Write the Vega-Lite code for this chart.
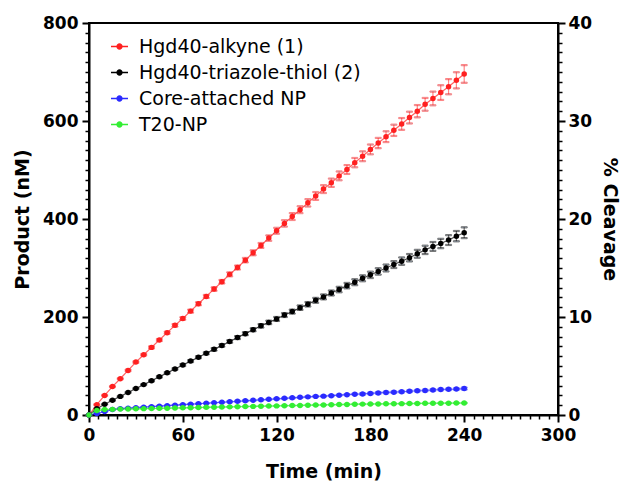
{
  "$schema": "https://vega.github.io/schema/vega-lite/v6.json",
  "width": 469,
  "height": 392,
  "autosize": {"type": "none"},
  "padding": {"left": 89, "top": 23, "right": 63, "bottom": 67},
  "background": "white",
  "data": {"values": [
    {"s":"Hgd40-alkyne (1)","t":0,"v":0,"e":0},{"s":"Hgd40-alkyne (1)","t":5,"v":21,"e":1},{"s":"Hgd40-alkyne (1)","t":10,"v":40,"e":1},{"s":"Hgd40-alkyne (1)","t":15,"v":58,"e":1},{"s":"Hgd40-alkyne (1)","t":20,"v":74,"e":1},{"s":"Hgd40-alkyne (1)","t":25,"v":91,"e":1.5},{"s":"Hgd40-alkyne (1)","t":30,"v":108,"e":1.5},{"s":"Hgd40-alkyne (1)","t":35,"v":123,"e":1.5},{"s":"Hgd40-alkyne (1)","t":40,"v":138,"e":2},{"s":"Hgd40-alkyne (1)","t":45,"v":153,"e":2},{"s":"Hgd40-alkyne (1)","t":50,"v":168,"e":2},{"s":"Hgd40-alkyne (1)","t":55,"v":183,"e":2.5},{"s":"Hgd40-alkyne (1)","t":60,"v":197,"e":2.5},{"s":"Hgd40-alkyne (1)","t":65,"v":212,"e":3},{"s":"Hgd40-alkyne (1)","t":70,"v":227,"e":3},{"s":"Hgd40-alkyne (1)","t":75,"v":242,"e":3},{"s":"Hgd40-alkyne (1)","t":80,"v":257,"e":3.5},{"s":"Hgd40-alkyne (1)","t":85,"v":272,"e":3.5},{"s":"Hgd40-alkyne (1)","t":90,"v":287,"e":4},{"s":"Hgd40-alkyne (1)","t":95,"v":301,"e":4},{"s":"Hgd40-alkyne (1)","t":100,"v":316,"e":4.5},{"s":"Hgd40-alkyne (1)","t":105,"v":331,"e":5},{"s":"Hgd40-alkyne (1)","t":110,"v":346,"e":5},{"s":"Hgd40-alkyne (1)","t":115,"v":361,"e":5.5},{"s":"Hgd40-alkyne (1)","t":120,"v":376,"e":6},{"s":"Hgd40-alkyne (1)","t":125,"v":391,"e":6.5},{"s":"Hgd40-alkyne (1)","t":130,"v":405,"e":7},{"s":"Hgd40-alkyne (1)","t":135,"v":419,"e":7},{"s":"Hgd40-alkyne (1)","t":140,"v":433,"e":7.5},{"s":"Hgd40-alkyne (1)","t":145,"v":447,"e":8},{"s":"Hgd40-alkyne (1)","t":150,"v":461,"e":8},{"s":"Hgd40-alkyne (1)","t":155,"v":474,"e":8.5},{"s":"Hgd40-alkyne (1)","t":160,"v":488,"e":9},{"s":"Hgd40-alkyne (1)","t":165,"v":501,"e":9},{"s":"Hgd40-alkyne (1)","t":170,"v":515,"e":9.5},{"s":"Hgd40-alkyne (1)","t":175,"v":528,"e":10},{"s":"Hgd40-alkyne (1)","t":180,"v":542,"e":10},{"s":"Hgd40-alkyne (1)","t":185,"v":555,"e":10.5},{"s":"Hgd40-alkyne (1)","t":190,"v":568,"e":11},{"s":"Hgd40-alkyne (1)","t":195,"v":581,"e":11.5},{"s":"Hgd40-alkyne (1)","t":200,"v":594,"e":12},{"s":"Hgd40-alkyne (1)","t":205,"v":607,"e":12},{"s":"Hgd40-alkyne (1)","t":210,"v":620,"e":12.5},{"s":"Hgd40-alkyne (1)","t":215,"v":634,"e":13},{"s":"Hgd40-alkyne (1)","t":220,"v":646,"e":14},{"s":"Hgd40-alkyne (1)","t":225,"v":658,"e":15},{"s":"Hgd40-alkyne (1)","t":230,"v":670,"e":15.5},{"s":"Hgd40-alkyne (1)","t":235,"v":683,"e":16.5},{"s":"Hgd40-alkyne (1)","t":240,"v":696,"e":18},
    {"s":"Hgd40-triazole-thiol (2)","t":0,"v":0,"e":0},{"s":"Hgd40-triazole-thiol (2)","t":5,"v":13,"e":0.5},{"s":"Hgd40-triazole-thiol (2)","t":10,"v":22,"e":0.5},{"s":"Hgd40-triazole-thiol (2)","t":15,"v":30,"e":1},{"s":"Hgd40-triazole-thiol (2)","t":20,"v":38,"e":1},{"s":"Hgd40-triazole-thiol (2)","t":25,"v":46,"e":1},{"s":"Hgd40-triazole-thiol (2)","t":30,"v":54,"e":1},{"s":"Hgd40-triazole-thiol (2)","t":35,"v":62,"e":1},{"s":"Hgd40-triazole-thiol (2)","t":40,"v":70,"e":1.5},{"s":"Hgd40-triazole-thiol (2)","t":45,"v":78,"e":1.5},{"s":"Hgd40-triazole-thiol (2)","t":50,"v":86,"e":1.5},{"s":"Hgd40-triazole-thiol (2)","t":55,"v":94,"e":1.5},{"s":"Hgd40-triazole-thiol (2)","t":60,"v":102,"e":2},{"s":"Hgd40-triazole-thiol (2)","t":65,"v":110,"e":2},{"s":"Hgd40-triazole-thiol (2)","t":70,"v":118,"e":2},{"s":"Hgd40-triazole-thiol (2)","t":75,"v":126,"e":2},{"s":"Hgd40-triazole-thiol (2)","t":80,"v":134,"e":2.5},{"s":"Hgd40-triazole-thiol (2)","t":85,"v":142,"e":2.5},{"s":"Hgd40-triazole-thiol (2)","t":90,"v":150,"e":2.5},{"s":"Hgd40-triazole-thiol (2)","t":95,"v":158,"e":3},{"s":"Hgd40-triazole-thiol (2)","t":100,"v":166,"e":3},{"s":"Hgd40-triazole-thiol (2)","t":105,"v":174,"e":3},{"s":"Hgd40-triazole-thiol (2)","t":110,"v":182,"e":3.5},{"s":"Hgd40-triazole-thiol (2)","t":115,"v":189,"e":3.5},{"s":"Hgd40-triazole-thiol (2)","t":120,"v":196,"e":4},{"s":"Hgd40-triazole-thiol (2)","t":125,"v":204,"e":4},{"s":"Hgd40-triazole-thiol (2)","t":130,"v":211,"e":4},{"s":"Hgd40-triazole-thiol (2)","t":135,"v":219,"e":4.5},{"s":"Hgd40-triazole-thiol (2)","t":140,"v":226,"e":4.5},{"s":"Hgd40-triazole-thiol (2)","t":145,"v":234,"e":5},{"s":"Hgd40-triazole-thiol (2)","t":150,"v":241,"e":5},{"s":"Hgd40-triazole-thiol (2)","t":155,"v":249,"e":5},{"s":"Hgd40-triazole-thiol (2)","t":160,"v":256,"e":5.5},{"s":"Hgd40-triazole-thiol (2)","t":165,"v":264,"e":5.5},{"s":"Hgd40-triazole-thiol (2)","t":170,"v":271,"e":6},{"s":"Hgd40-triazole-thiol (2)","t":175,"v":279,"e":6},{"s":"Hgd40-triazole-thiol (2)","t":180,"v":286,"e":6.5},{"s":"Hgd40-triazole-thiol (2)","t":185,"v":293,"e":6.5},{"s":"Hgd40-triazole-thiol (2)","t":190,"v":300,"e":7},{"s":"Hgd40-triazole-thiol (2)","t":195,"v":307,"e":7},{"s":"Hgd40-triazole-thiol (2)","t":200,"v":314,"e":7.5},{"s":"Hgd40-triazole-thiol (2)","t":205,"v":321,"e":7.5},{"s":"Hgd40-triazole-thiol (2)","t":210,"v":329,"e":8},{"s":"Hgd40-triazole-thiol (2)","t":215,"v":337,"e":8.5},{"s":"Hgd40-triazole-thiol (2)","t":220,"v":344,"e":9},{"s":"Hgd40-triazole-thiol (2)","t":225,"v":350,"e":9.5},{"s":"Hgd40-triazole-thiol (2)","t":230,"v":357,"e":10},{"s":"Hgd40-triazole-thiol (2)","t":235,"v":365,"e":10.5},{"s":"Hgd40-triazole-thiol (2)","t":240,"v":372,"e":11},
    {"s":"Core-attached NP","t":0,"v":0,"e":0},{"s":"Core-attached NP","t":5,"v":3,"e":0.5},{"s":"Core-attached NP","t":10,"v":7,"e":0.5},{"s":"Core-attached NP","t":15,"v":11,"e":0.5},{"s":"Core-attached NP","t":20,"v":13,"e":0.5},{"s":"Core-attached NP","t":25,"v":14,"e":0.5},{"s":"Core-attached NP","t":30,"v":15,"e":0.5},{"s":"Core-attached NP","t":35,"v":16,"e":0.5},{"s":"Core-attached NP","t":40,"v":17,"e":0.5},{"s":"Core-attached NP","t":45,"v":18,"e":0.5},{"s":"Core-attached NP","t":50,"v":19,"e":0.5},{"s":"Core-attached NP","t":55,"v":20,"e":0.5},{"s":"Core-attached NP","t":60,"v":21,"e":0.5},{"s":"Core-attached NP","t":65,"v":22,"e":0.5},{"s":"Core-attached NP","t":70,"v":23,"e":0.5},{"s":"Core-attached NP","t":75,"v":24,"e":0.5},{"s":"Core-attached NP","t":80,"v":25,"e":0.5},{"s":"Core-attached NP","t":85,"v":26,"e":0.5},{"s":"Core-attached NP","t":90,"v":27,"e":1},{"s":"Core-attached NP","t":95,"v":28,"e":1},{"s":"Core-attached NP","t":100,"v":29,"e":1},{"s":"Core-attached NP","t":105,"v":30,"e":1},{"s":"Core-attached NP","t":110,"v":31,"e":1},{"s":"Core-attached NP","t":115,"v":32,"e":1},{"s":"Core-attached NP","t":120,"v":33,"e":1},{"s":"Core-attached NP","t":125,"v":34,"e":1},{"s":"Core-attached NP","t":130,"v":35,"e":1},{"s":"Core-attached NP","t":135,"v":36,"e":1},{"s":"Core-attached NP","t":140,"v":37,"e":1},{"s":"Core-attached NP","t":145,"v":38,"e":1},{"s":"Core-attached NP","t":150,"v":38.5,"e":1},{"s":"Core-attached NP","t":155,"v":39.5,"e":1},{"s":"Core-attached NP","t":160,"v":40.5,"e":1},{"s":"Core-attached NP","t":165,"v":41.5,"e":1},{"s":"Core-attached NP","t":170,"v":42.5,"e":1},{"s":"Core-attached NP","t":175,"v":43,"e":1.5},{"s":"Core-attached NP","t":180,"v":44,"e":1.5},{"s":"Core-attached NP","t":185,"v":45,"e":1.5},{"s":"Core-attached NP","t":190,"v":46,"e":1.5},{"s":"Core-attached NP","t":195,"v":46.5,"e":1.5},{"s":"Core-attached NP","t":200,"v":47.5,"e":1.5},{"s":"Core-attached NP","t":205,"v":48.5,"e":1.5},{"s":"Core-attached NP","t":210,"v":49.5,"e":1.5},{"s":"Core-attached NP","t":215,"v":50,"e":1.5},{"s":"Core-attached NP","t":220,"v":51,"e":1.5},{"s":"Core-attached NP","t":225,"v":52,"e":1.5},{"s":"Core-attached NP","t":230,"v":52.5,"e":1.5},{"s":"Core-attached NP","t":235,"v":53,"e":1.5},{"s":"Core-attached NP","t":240,"v":54,"e":2},
    {"s":"T20-NP","t":0,"v":0,"e":0},{"s":"T20-NP","t":5,"v":9,"e":0.5},{"s":"T20-NP","t":10,"v":11,"e":0.5},{"s":"T20-NP","t":15,"v":11.5,"e":0.5},{"s":"T20-NP","t":20,"v":12,"e":0.5},{"s":"T20-NP","t":25,"v":12.3,"e":0.5},{"s":"T20-NP","t":30,"v":12.6,"e":0.5},{"s":"T20-NP","t":35,"v":13,"e":0.5},{"s":"T20-NP","t":40,"v":13.3,"e":0.5},{"s":"T20-NP","t":45,"v":13.6,"e":0.5},{"s":"T20-NP","t":50,"v":14,"e":0.5},{"s":"T20-NP","t":55,"v":14.3,"e":0.5},{"s":"T20-NP","t":60,"v":14.6,"e":0.5},{"s":"T20-NP","t":65,"v":15,"e":0.5},{"s":"T20-NP","t":70,"v":15.3,"e":0.5},{"s":"T20-NP","t":75,"v":15.6,"e":0.5},{"s":"T20-NP","t":80,"v":16,"e":0.5},{"s":"T20-NP","t":85,"v":16.3,"e":0.5},{"s":"T20-NP","t":90,"v":16.6,"e":0.5},{"s":"T20-NP","t":95,"v":17,"e":0.5},{"s":"T20-NP","t":100,"v":17.3,"e":0.5},{"s":"T20-NP","t":105,"v":17.6,"e":0.5},{"s":"T20-NP","t":110,"v":18,"e":0.5},{"s":"T20-NP","t":115,"v":18.3,"e":0.5},{"s":"T20-NP","t":120,"v":18.6,"e":0.5},{"s":"T20-NP","t":125,"v":19,"e":0.5},{"s":"T20-NP","t":130,"v":19.3,"e":0.5},{"s":"T20-NP","t":135,"v":19.6,"e":0.5},{"s":"T20-NP","t":140,"v":20,"e":0.5},{"s":"T20-NP","t":145,"v":20.3,"e":0.5},{"s":"T20-NP","t":150,"v":20.6,"e":0.5},{"s":"T20-NP","t":155,"v":21,"e":0.5},{"s":"T20-NP","t":160,"v":21.3,"e":0.5},{"s":"T20-NP","t":165,"v":21.6,"e":0.5},{"s":"T20-NP","t":170,"v":22,"e":0.5},{"s":"T20-NP","t":175,"v":22.2,"e":0.5},{"s":"T20-NP","t":180,"v":22.4,"e":0.5},{"s":"T20-NP","t":185,"v":22.6,"e":0.5},{"s":"T20-NP","t":190,"v":22.8,"e":0.5},{"s":"T20-NP","t":195,"v":23,"e":0.5},{"s":"T20-NP","t":200,"v":23.2,"e":0.5},{"s":"T20-NP","t":205,"v":23.4,"e":0.5},{"s":"T20-NP","t":210,"v":23.6,"e":0.5},{"s":"T20-NP","t":215,"v":23.8,"e":0.5},{"s":"T20-NP","t":220,"v":24,"e":0.5},{"s":"T20-NP","t":225,"v":24.1,"e":0.5},{"s":"T20-NP","t":230,"v":24.2,"e":0.5},{"s":"T20-NP","t":235,"v":24.4,"e":0.5},{"s":"T20-NP","t":240,"v":24.5,"e":0.5}
  ]},
  "layer": [
    {
      "encoding": {
        "x": {"field": "t", "type": "quantitative",
          "scale": {"domain": [0, 300], "nice": false, "zero": false},
          "axis": {
            "title": "Time (min)",
            "values": [0,6,12,18,24,30,36,42,48,54,60,66,72,78,84,90,96,102,108,114,120,126,132,138,144,150,156,162,168,174,180,186,192,198,204,210,216,222,228,234,240,246,252,258,264,270,276,282,288,294,300],
            "labelExpr": "datum.value % 60 === 0 ? datum.label : ''",
            "tickSize": {"condition": {"test": "datum.value % 60 === 0", "value": 7}, "value": 4},
            "tickWidth": {"condition": {"test": "datum.value % 60 === 0", "value": 2}, "value": 1.5},
            "labelPadding": 5,
            "titlePadding": 19
          }
        },
        "y": {"field": "v", "type": "quantitative",
          "scale": {"domain": [0, 800], "nice": false},
          "axis": {
            "title": "Product (nM)",
            "values": [0,20,40,60,80,100,120,140,160,180,200,220,240,260,280,300,320,340,360,380,400,420,440,460,480,500,520,540,560,580,600,620,640,660,680,700,720,740,760,780,800],
            "labelExpr": "datum.value % 200 === 0 ? datum.label : ''",
            "tickSize": {"condition": {"test": "datum.value % 200 === 0", "value": 7}, "value": 4},
            "tickWidth": {"condition": {"test": "datum.value % 200 === 0", "value": 2}, "value": 1.5},
            "labelPadding": 4,
            "titlePadding": 10
          }
        }
      },
      "layer": [
        {
          "mark": {"type": "errorbar", "ticks": {"size": 6}, "thickness": 1.2, "opacity": 0.55},
          "encoding": {
            "yError": {"field": "e"},
            "stroke": {"field": "s", "type": "nominal", "legend": null,
              "scale": {"domain": ["T20-NP", "Core-attached NP", "Hgd40-triazole-thiol (2)", "Hgd40-alkyne (1)"], "range": ["#33ee33", "#2a2aff", "#000000", "#ff2020"]}}
          }
        },
        {
          "mark": {"type": "line", "strokeWidth": 1.2, "opacity": 0.7},
          "encoding": {
            "color": {"field": "s", "type": "nominal",
              "scale": {"domain": ["Hgd40-alkyne (1)", "Hgd40-triazole-thiol (2)", "Core-attached NP", "T20-NP"], "range": ["#ff2020", "#000000", "#2a2aff", "#33ee33"]},
              "legend": {
                "title": null,
                "orient": "none",
                "legendX": 21,
                "legendY": 14,
                "padding": 0,
                "symbolType": "M -1 0 L 1 0 M -0.08 0 A 0.08 0.08 0 1 0 0.08 0 A 0.08 0.08 0 1 0 -0.08 0 M -0.18 0 A 0.18 0.18 0 1 0 0.18 0 A 0.18 0.18 0 1 0 -0.18 0 M -0.28 0 A 0.28 0.28 0 1 0 0.28 0 A 0.28 0.28 0 1 0 -0.28 0",
                "symbolSize": 289,
                "symbolStrokeWidth": 1.5,
                "symbolOpacity": 1,
                "labelFont": "DejaVu Sans",
                "labelFontSize": 19,
                "labelColor": "black",
                "labelLimit": 400,
                "labelOffset": 10,
                "rowPadding": 6
              }
            }
          }
        },
        {
          "mark": {"type": "point", "filled": true, "size": 30, "opacity": 1},
          "encoding": {
            "fill": {"field": "s", "type": "nominal", "legend": null,
              "scale": {"domain": ["T20-NP", "Core-attached NP", "Hgd40-triazole-thiol (2)", "Hgd40-alkyne (1)"], "range": ["#33ee33", "#2a2aff", "#000000", "#ff2020"]}}
          }
        }
      ]
    },
    {
      "data": {"values": [{"c": 0}, {"c": 40}]},
      "mark": {"type": "point", "opacity": 0},
      "encoding": {
        "y": {"field": "c", "type": "quantitative",
          "scale": {"domain": [0, 40], "nice": false},
          "axis": {
            "orient": "right",
            "title": "% Cleavage",
            "values": [0,1,2,3,4,5,6,7,8,9,10,11,12,13,14,15,16,17,18,19,20,21,22,23,24,25,26,27,28,29,30,31,32,33,34,35,36,37,38,39,40],
            "labelExpr": "datum.value % 10 === 0 ? datum.label : ''",
            "tickSize": {"condition": {"test": "datum.value % 10 === 0", "value": 7}, "value": 4},
            "tickWidth": {"condition": {"test": "datum.value % 10 === 0", "value": 2}, "value": 1.5},
            "labelPadding": 3,
            "titlePadding": 8
          }
        }
      }
    }
  ],
  "resolve": {"scale": {"y": "independent"}},
  "config": {
    "view": {"stroke": "black", "strokeWidth": 2},
    "axis": {
      "grid": false,
      "domainColor": "black",
      "domainWidth": 2,
      "tickColor": "black",
      "labelFont": "DejaVu Sans",
      "labelFontWeight": "bold",
      "labelFontSize": 17,
      "labelColor": "black",
      "labelOverlap": false,
      "labelFlush": false,
      "labelBound": false,
      "titleFont": "DejaVu Sans",
      "titleFontWeight": "bold",
      "titleFontSize": 19,
      "titleColor": "black"
    }
  }
}
